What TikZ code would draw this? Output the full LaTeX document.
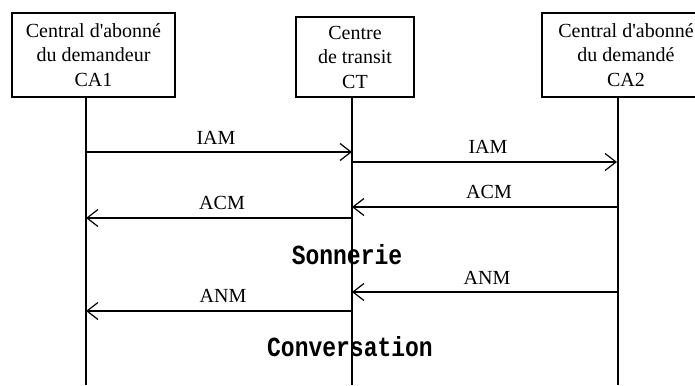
\documentclass[tikz,border=0pt]{standalone}
\usepackage{fontspec}
\setmainfont{Liberation Serif}[Ligatures=TeXOff]
\newfontfamily\phasefont{Liberation Mono}
\usetikzlibrary{arrows.meta}
\begin{document}
\begin{tikzpicture}[x=1pt,y=-1pt,
  every node/.style={inner sep=0pt},
  station/.style={draw, line width=1.2pt, align=center,
    font=\fontsize{20}{24.5}\selectfont},
  lifeline/.style={line width=1.2pt},
  msg/.style={line width=1.2pt,
    -{Straight Barb[length=11pt,width=17pt]}},
  msglabel/.style={font=\fontsize{20}{24}\selectfont},
  phase/.style={font=\phasefont\bfseries\fontsize{23}{23}\selectfont}
]
\useasboundingbox (0,0) rectangle (695,385);
\clip (0,0) rectangle (695,385);

% exchanges
\node[station, minimum width=163pt, minimum height=84pt] (ca1) at (93.5,55)
  {Central d'abonné\\du demandeur\\CA1};
\node[station, minimum width=118pt, minimum height=80pt] (ct) at (355,57)
  {Centre\\de transit\\CT};
\node[station, minimum width=168pt, minimum height=84pt] (ca2) at (626,55)
  {Central d'abonné\\du demandé\\CA2};

% lifelines
\coordinate (ca1top) at (86,97);  \coordinate (ca1bot) at (86,385);
\coordinate (cttop)  at (352,97); \coordinate (ctbot)  at (352,385);
\coordinate (ca2top) at (618,97); \coordinate (ca2bot) at (618,385);
\draw[lifeline] (ca1top) -- (ca1bot);
\draw[lifeline] (cttop) -- (ctbot);
\draw[lifeline] (ca2top) -- (ca2bot);

% message end points on the lifelines
\coordinate (iamA) at (86,152);  \coordinate (iamB) at (352,152);
\coordinate (iamC) at (352,162); \coordinate (iamD) at (617,162);
\coordinate (acmD) at (618,207); \coordinate (acmC) at (352,207);
\coordinate (acmB) at (352,218); \coordinate (acmA) at (86,218);
\coordinate (anmD) at (618,292); \coordinate (anmC) at (352,292);
\coordinate (anmB) at (352,311); \coordinate (anmA) at (86,311);

% messages
\draw[msg] (iamA) -- (iamB);
\draw[msg] (iamC) -- (iamD);
\draw[msg] (acmD) -- (acmC);
\draw[msg] (acmB) -- (acmA);
\draw[msg] (anmD) -- (anmC);
\draw[msg] (anmB) -- (anmA);

% message names
\node[msglabel] (liam1) at (216,138) {IAM};
\node[msglabel] (liam2) at (488,147) {IAM};
\node[msglabel] (lacm2) at (489,192) {ACM};
\node[msglabel] (lacm1) at (222,203) {ACM};
\node[msglabel] (lanm2) at (487,278) {ANM};
\node[msglabel] (lanm1) at (223,296) {ANM};

% phases
\node[phase] (ring) at (347,255) {\scalebox{1}[1.2]{Sonnerie}};
\node[phase] (talk) at (350,347) {\scalebox{1}[1.2]{Conversation}};
\end{tikzpicture}
\end{document}
